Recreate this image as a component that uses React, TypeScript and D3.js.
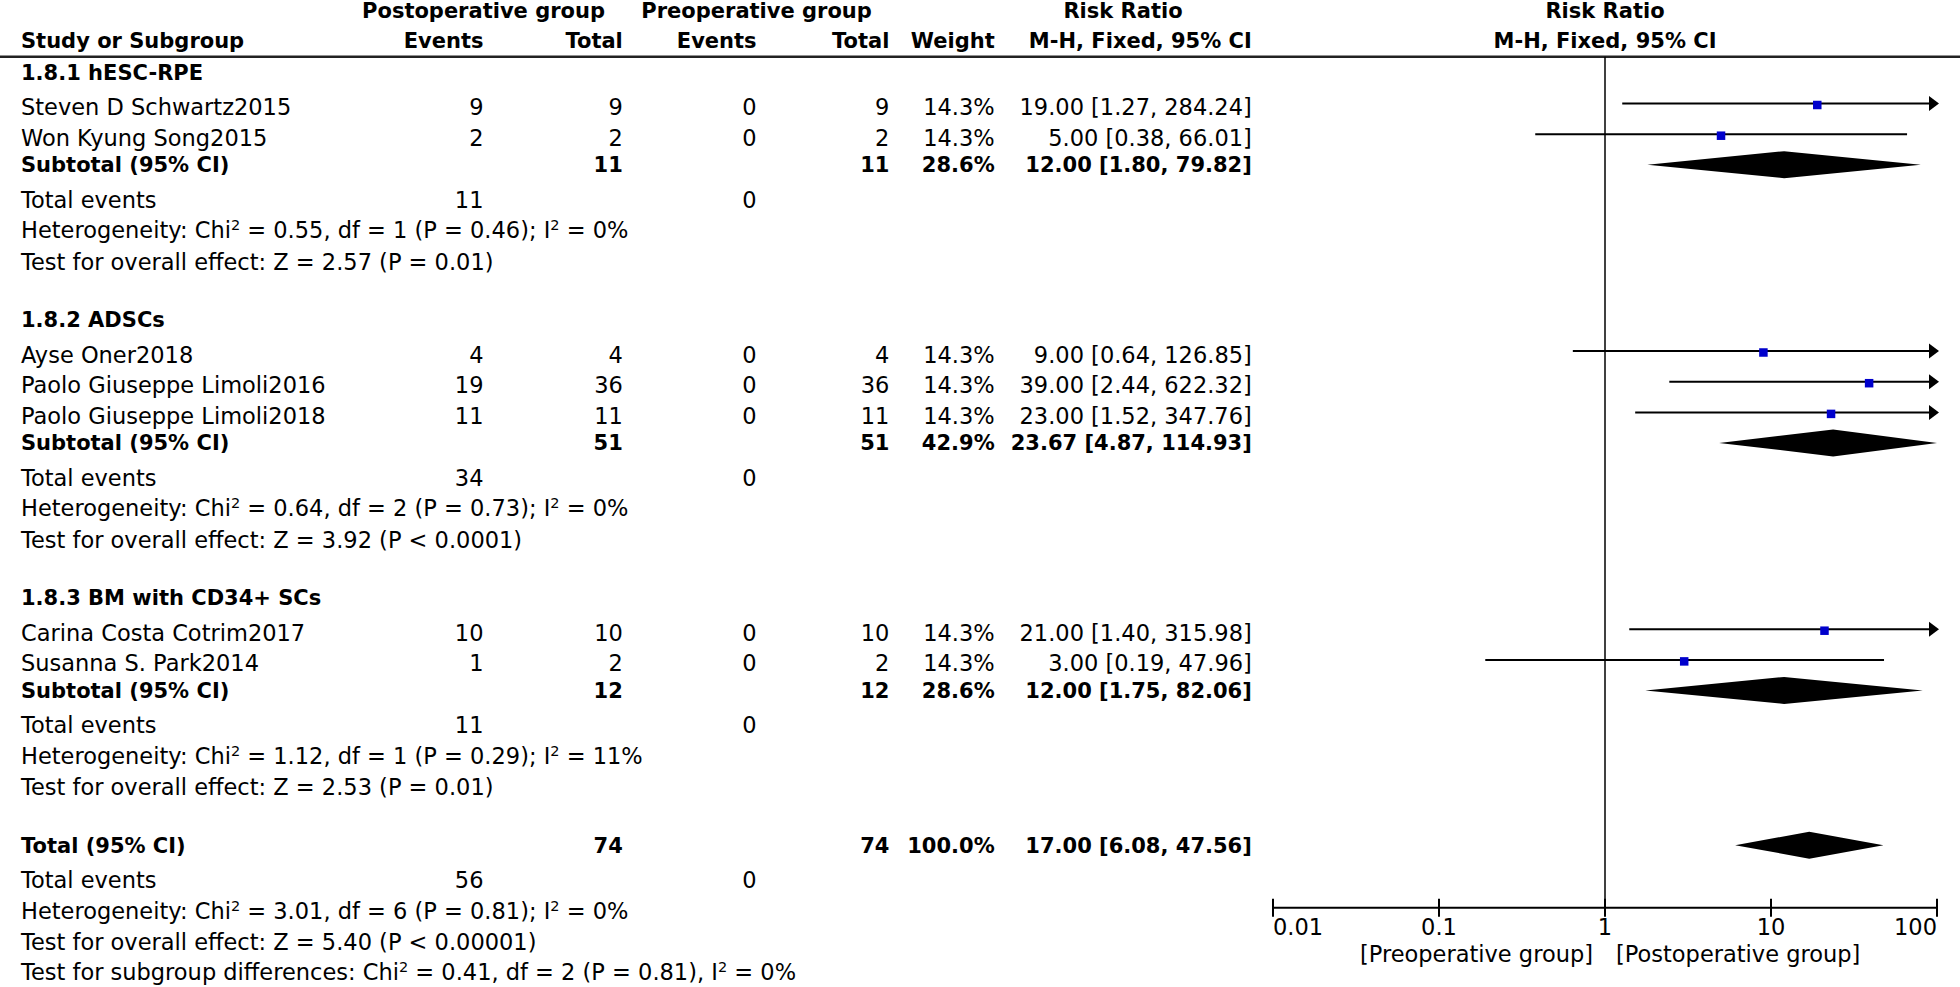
import React from 'react';
import * as d3 from 'd3';

// ---------- DATA ----------
const groupNames = ['1.8.1 hESC-RPE', '1.8.2 ADSCs', '1.8.3 BM with CD34+ SCs'];

const studyNames = [
  'Steven D Schwartz2015',
  'Won Kyung Song2015',
  'Ayse Oner2018',
  'Paolo Giuseppe Limoli2016',
  'Paolo Giuseppe Limoli2018',
  'Carina Costa Cotrim2017',
  'Susanna S. Park2014',
];
const studyGroup = [0, 0, 1, 1, 1, 2, 2];
const postEvents = [9, 2, 4, 19, 11, 10, 1];
const postTotal = [9, 2, 4, 36, 11, 10, 2];
const preEvents = [0, 0, 0, 0, 0, 0, 0];
const preTotal = [9, 2, 4, 36, 11, 10, 2];
const studyWeight = [14.3, 14.3, 14.3, 14.3, 14.3, 14.3, 14.3];
const studyRR = [19.0, 5.0, 9.0, 39.0, 23.0, 21.0, 3.0];
const studyLo = [1.27, 0.38, 0.64, 2.44, 1.52, 1.4, 0.19];
const studyHi = [284.24, 66.01, 126.85, 622.32, 347.76, 315.98, 47.96];

const subPostTotal = [11, 51, 12];
const subPreTotal = [11, 51, 12];
const subWeight = [28.6, 42.9, 28.6];
const subRR = [12.0, 23.67, 12.0];
const subLo = [1.8, 4.87, 1.75];
const subHi = [79.82, 114.93, 82.06];
const subPostEvents = [11, 34, 11];
const subPreEvents = [0, 0, 0];
const subHet = [
  ['0.55', '1', '0.46', '0%'],
  ['0.64', '2', '0.73', '0%'],
  ['1.12', '1', '0.29', '11%'],
];
const subTest = ['Z = 2.57 (P = 0.01)', 'Z = 3.92 (P < 0.0001)', 'Z = 2.53 (P = 0.01)'];

const totalPost = 74;
const totalPre = 74;
const totalWeight = 100.0;
const totalRR = 17.0;
const totalLo = 6.08;
const totalHi = 47.56;
const totalPostEvents = 56;
const totalPreEvents = 0;
const totalHet = ['3.01', '6', '0.81', '0%'];
const totalTest = 'Z = 5.40 (P < 0.00001)';
const subgroupDiff = ['0.41', '2', '0.81', '0%'];

const axisTicks = [0.01, 0.1, 1, 10, 100];
const leftLabel = '[Preoperative group]';
const rightLabel = '[Postoperative group]';

// ---------- LAYOUT ----------
const W = 1960;
const H = 987;
const FONT = "'DejaVu Sans', 'Verdana', sans-serif";
const FS = 22.5;
const FSB = 21;

const COL = {
  label: 21,
  postEv: 483.5,
  postTot: 622.8,
  preEv: 756.6,
  preTot: 889.4,
  weight: 994.7,
  rr: 1251.8,
};

const x = d3.scaleLog().domain([0.01, 100]).range([1273, 1937]);
const f2 = d3.format('.2f');
const f1 = d3.format('.1f');
const HEADER_LINE_Y = 56.7;
const AXIS_Y = 907.7;

type Row = { type: string; y: number; i?: number };

function buildRows(): Row[] {
  const rows: Row[] = [];
  let y = 79.5;
  groupNames.forEach((_, g) => {
    if (g > 0) y += 57.5;
    rows.push({ type: 'group', y, i: g });
    let first = true;
    studyNames.forEach((_, s) => {
      if (studyGroup[s] !== g) return;
      y += first ? 35.5 : 30.7;
      first = false;
      rows.push({ type: 'study', y, i: s });
    });
    y += 26.5;
    rows.push({ type: 'subtotal', y, i: g });
    y += 35.5;
    rows.push({ type: 'events', y, i: g });
    y += 30.5;
    rows.push({ type: 'het', y, i: g });
    y += 31.3;
    rows.push({ type: 'test', y, i: g });
  });
  y += 57.5;
  rows.push({ type: 'total', y });
  y += 35.3;
  rows.push({ type: 'totalEvents', y });
  y += 30.5;
  rows.push({ type: 'totalHet', y });
  y += 31.3;
  rows.push({ type: 'totalTest', y });
  y += 30.5;
  rows.push({ type: 'diff', y });
  return rows;
}

const T = (props: any) => (
  <text
    fontFamily={FONT}
    fontSize={props.bold ? FSB : FS}
    fontWeight={props.bold ? 'bold' : 'normal'}
    fill="#000"
    x={props.x}
    y={props.y}
    textAnchor={props.anchor || 'start'}
  >
    {props.children}
  </text>
);

const Sup = ({ children }: any) => (
  <tspan fontSize={14.5} dy={-8}>
    {children}
  </tspan>
);
const Down = ({ children }: any) => <tspan dy={8}>{children}</tspan>;

function HetText({ v, y, sep, prefix }: any) {
  return (
    <text fontFamily={FONT} fontSize={FS} x={COL.label} y={y} fill="#000">
      {prefix}: Chi
      <Sup>2</Sup>
      <Down>{` = ${v[0]}, df = ${v[1]} (P = ${v[2]})${sep} I`}</Down>
      <Sup>2</Sup>
      <Down>{` = ${v[3]}`}</Down>
    </text>
  );
}

function Diamond({ lo, mid, hi, y }: any) {
  const cl = (v: number) => Math.max(0.01, Math.min(100, v));
  const cy = y - 7.5;
  const hh = 13.5;
  const pts = [
    [x(cl(lo)), cy],
    [x(cl(mid)), cy - hh],
    [x(cl(hi)), cy],
    [x(cl(mid)), cy + hh],
  ];
  return <polygon points={pts.map((p) => p.join(',')).join(' ')} fill="#000" />;
}

function StudyMark({ s, y }: any) {
  const ly = y - 11.5;
  const lo = studyLo[s];
  const hi = studyHi[s];
  const x0 = x(Math.max(0.01, lo));
  const overR = hi > 100;
  const x1 = overR ? x(100) - 7 : x(hi);
  const sq = 8.5;
  return (
    <g>
      <line x1={x0} x2={x1} y1={ly} y2={ly} stroke="#000" strokeWidth={2} />
      {overR && (
        <polygon
          points={`${x(100) - 8},${ly - 7.5} ${x(100) + 2},${ly} ${x(100) - 8},${ly + 7.5}`}
          fill="#000"
        />
      )}
      <rect
        x={x(studyRR[s]) - sq / 2}
        y={ly + 1.5 - sq / 2}
        width={sq}
        height={sq}
        fill="#0000cc"
      />
    </g>
  );
}

export default function App() {
  const rows = buildRows();
  return (
    <svg
      width={W}
      height={H}
      viewBox={`0 0 ${W} ${H}`}
      style={{ position: 'absolute', left: 0, top: 0, display: 'block', background: '#fff' }}
    >
      <rect x={0} y={0} width={W} height={H} fill="#fff" />
      {/* header */}
      <T bold x={COL.postEv} y={18} anchor="middle">Postoperative group</T>
      <T bold x={COL.preEv} y={18} anchor="middle">Preoperative group</T>
      <T bold x={1123} y={18} anchor="middle">Risk Ratio</T>
      <T bold x={x(1)} y={18} anchor="middle">Risk Ratio</T>
      <T bold x={COL.label} y={47.7}>Study or Subgroup</T>
      <T bold x={COL.postEv} y={47.7} anchor="end">Events</T>
      <T bold x={COL.postTot} y={47.7} anchor="end">Total</T>
      <T bold x={COL.preEv} y={47.7} anchor="end">Events</T>
      <T bold x={COL.preTot} y={47.7} anchor="end">Total</T>
      <T bold x={COL.weight} y={47.7} anchor="end">Weight</T>
      <T bold x={COL.rr} y={47.7} anchor="end">M-H, Fixed, 95% CI</T>
      <T bold x={x(1)} y={47.7} anchor="middle">M-H, Fixed, 95% CI</T>
      <line x1={0} x2={W} y1={HEADER_LINE_Y} y2={HEADER_LINE_Y} stroke="#222" strokeWidth={2.5} />

      {/* null line */}
      <line x1={x(1)} x2={x(1)} y1={HEADER_LINE_Y} y2={AXIS_Y} stroke="#000" strokeWidth={1.5} />

      {rows.map((r, k) => {
        const y = r.y;
        const i = r.i as number;
        switch (r.type) {
          case 'group':
            return <T key={k} bold x={COL.label} y={y}>{groupNames[i]}</T>;
          case 'study':
            return (
              <g key={k}>
                <T x={COL.label} y={y}>{studyNames[i]}</T>
                <T x={COL.postEv} y={y} anchor="end">{postEvents[i]}</T>
                <T x={COL.postTot} y={y} anchor="end">{postTotal[i]}</T>
                <T x={COL.preEv} y={y} anchor="end">{preEvents[i]}</T>
                <T x={COL.preTot} y={y} anchor="end">{preTotal[i]}</T>
                <T x={COL.weight} y={y} anchor="end">{f1(studyWeight[i])}%</T>
                <T x={COL.rr} y={y} anchor="end">
                  {`${f2(studyRR[i])} [${f2(studyLo[i])}, ${f2(studyHi[i])}]`}
                </T>
                <StudyMark s={i} y={y} />
              </g>
            );
          case 'subtotal':
            return (
              <g key={k}>
                <T bold x={COL.label} y={y}>Subtotal (95% CI)</T>
                <T bold x={COL.postTot} y={y} anchor="end">{subPostTotal[i]}</T>
                <T bold x={COL.preTot} y={y} anchor="end">{subPreTotal[i]}</T>
                <T bold x={COL.weight} y={y} anchor="end">{f1(subWeight[i])}%</T>
                <T bold x={COL.rr} y={y} anchor="end">
                  {`${f2(subRR[i])} [${f2(subLo[i])}, ${f2(subHi[i])}]`}
                </T>
                <Diamond lo={subLo[i]} mid={subRR[i]} hi={subHi[i]} y={y} />
              </g>
            );
          case 'events':
            return (
              <g key={k}>
                <T x={COL.label} y={y}>Total events</T>
                <T x={COL.postEv} y={y} anchor="end">{subPostEvents[i]}</T>
                <T x={COL.preEv} y={y} anchor="end">{subPreEvents[i]}</T>
              </g>
            );
          case 'het':
            return <HetText key={k} v={subHet[i]} y={y} sep=";" prefix="Heterogeneity" />;
          case 'test':
            return <T key={k} x={COL.label} y={y}>{`Test for overall effect: ${subTest[i]}`}</T>;
          case 'total':
            return (
              <g key={k}>
                <T bold x={COL.label} y={y}>Total (95% CI)</T>
                <T bold x={COL.postTot} y={y} anchor="end">{totalPost}</T>
                <T bold x={COL.preTot} y={y} anchor="end">{totalPre}</T>
                <T bold x={COL.weight} y={y} anchor="end">{f1(totalWeight)}%</T>
                <T bold x={COL.rr} y={y} anchor="end">
                  {`${f2(totalRR)} [${f2(totalLo)}, ${f2(totalHi)}]`}
                </T>
                <Diamond lo={totalLo} mid={totalRR} hi={totalHi} y={y} />
              </g>
            );
          case 'totalEvents':
            return (
              <g key={k}>
                <T x={COL.label} y={y}>Total events</T>
                <T x={COL.postEv} y={y} anchor="end">{totalPostEvents}</T>
                <T x={COL.preEv} y={y} anchor="end">{totalPreEvents}</T>
              </g>
            );
          case 'totalHet':
            return <HetText key={k} v={totalHet} y={y} sep=";" prefix="Heterogeneity" />;
          case 'totalTest':
            return <T key={k} x={COL.label} y={y}>{`Test for overall effect: ${totalTest}`}</T>;
          case 'diff':
            return <HetText key={k} v={subgroupDiff} y={y} sep="," prefix="Test for subgroup differences" />;
          default:
            return null;
        }
      })}

      {/* axis */}
      <line x1={x(0.01)} x2={x(100)} y1={AXIS_Y} y2={AXIS_Y} stroke="#000" strokeWidth={2} />
      {axisTicks.map((t, k) => (
        <g key={k}>
          <line x1={x(t)} x2={x(t)} y1={AXIS_Y - 9} y2={AXIS_Y + 9} stroke="#000" strokeWidth={2} />
          <T
            x={x(t)}
            y={935}
            anchor={k === 0 ? 'start' : k === axisTicks.length - 1 ? 'end' : 'middle'}
          >
            {String(t)}
          </T>
        </g>
      ))}
      <T x={x(1) - 12} y={961.7} anchor="end">{leftLabel}</T>
      <T x={x(1) + 11} y={961.7} anchor="start">{rightLabel}</T>
    </svg>
  );
}
